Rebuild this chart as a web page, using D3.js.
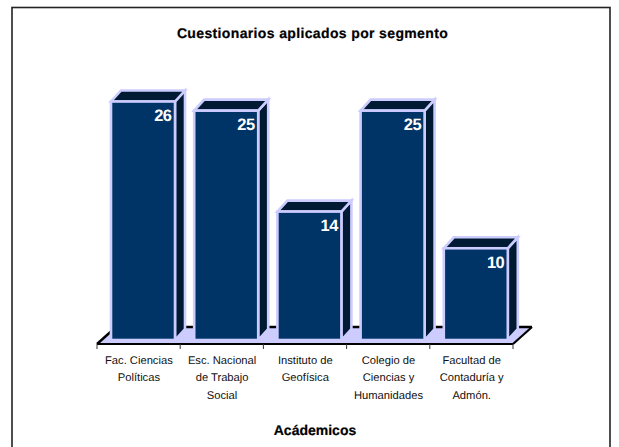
<!DOCTYPE html>
<html><head><meta charset="utf-8">
<script src="https://cdn.jsdelivr.net/npm/d3@7/dist/d3.min.js"></script>
<style>html,body{margin:0;padding:0;background:#fff}svg{display:block;font-family:"Liberation Sans",Arial,sans-serif;text-rendering:geometricPrecision}</style>
</head><body><svg id="c" width="619" height="447"></svg>
<script>
const categories=["Fac. Ciencias|Políticas","Esc. Nacional|de Trabajo|Social","Instituto de|Geofísica","Colegio de|Ciencias y|Humanidades","Facultad de|Contaduría y|Admón."];
const values=[26,25,14,25,10];
const titleText="Cuestionarios aplicados por segmento";
const axisTitle="Acádemicos";

const svg=d3.select("#c");
const x=d3.scaleBand().domain(categories).range([97,513]);
const y=d3.scaleLinear().domain([0,26]).range([340,101.5]);
const dx=10,dy=11,pad=14,bw=64;
const edge="#ccccff",front="#003366",dark="#001a33",ink="#000";

svg.append("rect").attr("x",12).attr("y",7.5).attr("width",598).attr("height",460).attr("fill","#fff").attr("stroke","#222").attr("stroke-width",1.6);

const baseY=344, backY=327, skew=19;
const [x0,x1]=x.range();
svg.append("path").attr("d",`M${x0},${baseY}L${x0+skew},${backY}L${x1+skew},${backY}L${x1},${baseY}Z`).attr("fill",edge);
svg.append("path").attr("d",`M${x0+skew},${backY}L${x1+skew},${backY}`).attr("stroke",ink).attr("stroke-width",2.6).attr("fill","none");
svg.append("path").attr("d",`M${x0},${baseY}L${x0+skew},${backY}`).attr("stroke",ink).attr("stroke-width",2.4).attr("fill","none");
svg.append("path").attr("d",`M${x1},${baseY}L${x1+skew},${backY}`).attr("stroke",ink).attr("stroke-width",2.2).attr("fill","none");
const g=svg.selectAll("g.bar").data(values).join("g").attr("class","bar");
g.each(function(v,i){
  const s=d3.select(this),l=x(categories[i])+pad,r=l+bw,t=y(v),b=y(0);
  s.append("path").attr("d",`M${r},${b}L${r+dx},${b-dy}L${r+dx},${t-dy}L${r},${t}Z`).attr("fill",dark).attr("stroke",edge).attr("stroke-width",2.6);
  s.append("path").attr("d",`M${l},${t}L${l+dx},${t-dy}L${r+dx},${t-dy}L${r},${t}Z`).attr("fill",dark).attr("stroke",edge).attr("stroke-width",2.6);
  s.append("rect").attr("x",l).attr("y",t).attr("width",bw).attr("height",b-t).attr("fill",front).attr("stroke",edge).attr("stroke-width",2.6);
  s.append("text").attr("x",r-3.5).attr("y",t+19.5).attr("text-anchor","end").attr("fill","#fff").attr("font-weight","bold").attr("font-size",16.5).attr("letter-spacing",-0.5).text(v);
});
svg.append("path").attr("d",`M${x0},${baseY}H${x1}`).attr("stroke",ink).attr("stroke-width",1.8).attr("fill","none");
const ticks=categories.map(c=>x(c)).concat([x1]);
svg.selectAll("line.t").data(ticks).join("line").attr("class","t").attr("x1",d=>d).attr("x2",d=>d).attr("y1",baseY).attr("y2",349).attr("stroke","#333");
svg.selectAll("text.cat").data(categories).join("text").attr("class","cat")
  .attr("text-anchor","middle").attr("font-size",11.2).attr("fill","#111")
  .each(function(c){
    const cx=x(c)+x.bandwidth()/2+0.3;
    d3.select(this).selectAll("tspan").data(c.split("|")).join("tspan").attr("x",cx).attr("y",(d,i)=>364+i*17.3).text(d=>d);
  });
svg.append("text").attr("x",312.5).attr("y",38).attr("text-anchor","middle").attr("font-weight","bold").attr("font-size",14).attr("letter-spacing",0.36).attr("stroke","#000").attr("stroke-width",0.2).text(titleText);
svg.append("text").attr("x",315).attr("y",434.5).attr("text-anchor","middle").attr("font-weight","bold").attr("font-size",14).attr("stroke","#000").attr("stroke-width",0.2).text(axisTitle);
</script></body></html>
